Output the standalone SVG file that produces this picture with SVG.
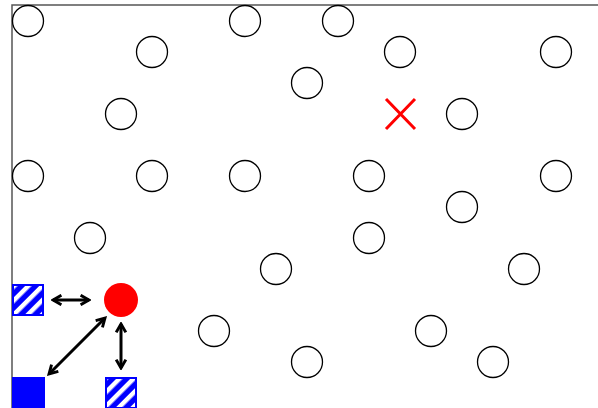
<svg xmlns="http://www.w3.org/2000/svg" width="598" height="408" viewBox="0 0 598 408">
<style>
.obs{fill:none;stroke:#000;stroke-width:1.3}
.frame{fill:none;stroke:#555;stroke-width:1.5}
.arr{stroke:#000;stroke-width:3;fill:none;marker-start:url(#ah);marker-end:url(#ah)}
.hatch{fill:url(#hp);stroke:#00f;stroke-width:2}
</style>
<defs>
<pattern id="hp" patternUnits="userSpaceOnUse" width="10" height="10" patternTransform="rotate(45)">
<rect width="10" height="10" fill="#00f"/>
<rect x="0" y="0" width="4.5" height="10" fill="#fff"/>
</pattern>
<marker id="ah" viewBox="0 0 10 10" refX="8" refY="5" markerWidth="4" markerHeight="4" orient="auto-start-reverse" markerUnits="strokeWidth">
<path d="M1,1 L8,5 L1,9" fill="none" stroke="#000" stroke-width="2.4"/>
</marker>
</defs>
<rect width="598" height="408" fill="#fff"/>
<path class="frame" d="M12,408 V5 H598"/>
<g id="obstacles">
<circle class="obs" cx="28" cy="21" r="15.5"/>
<circle class="obs" cx="245" cy="21" r="15.5"/>
<circle class="obs" cx="338" cy="21" r="15.5"/>
<circle class="obs" cx="152" cy="52" r="15.5"/>
<circle class="obs" cx="400" cy="52" r="15.5"/>
<circle class="obs" cx="556" cy="52" r="15.5"/>
<circle class="obs" cx="307" cy="83" r="15.5"/>
<circle class="obs" cx="121" cy="114" r="15.5"/>
<circle class="obs" cx="462" cy="114" r="15.5"/>
<circle class="obs" cx="28" cy="176" r="15.5"/>
<circle class="obs" cx="152" cy="176" r="15.5"/>
<circle class="obs" cx="245" cy="176" r="15.5"/>
<circle class="obs" cx="369" cy="176" r="15.5"/>
<circle class="obs" cx="556" cy="176" r="15.5"/>
<circle class="obs" cx="462" cy="207" r="15.5"/>
<circle class="obs" cx="90" cy="238" r="15.5"/>
<circle class="obs" cx="369" cy="238" r="15.5"/>
<circle class="obs" cx="276" cy="269" r="15.5"/>
<circle class="obs" cx="524" cy="269" r="15.5"/>
<circle class="obs" cx="214" cy="331" r="15.5"/>
<circle class="obs" cx="431" cy="331" r="15.5"/>
<circle class="obs" cx="307" cy="362" r="15.5"/>
<circle class="obs" cx="493" cy="362" r="15.5"/>
</g>
<g id="goal">
<path d="M386,99 L415,129 M415,99 L386,129" stroke="#f00" stroke-width="3" fill="none"/>
</g>
<g id="agent">
<circle cx="121" cy="300" r="17" fill="#f00"/>
</g>
<g id="left">
<rect class="hatch" x="13" y="285" width="30" height="30"/>
</g>
<g id="down">
<rect class="hatch" x="106" y="378" width="30" height="30"/>
</g>
<g id="diag">
<rect x="12" y="377" width="33" height="33" fill="#00f"/>
</g>
<g id="connectors">
<line class="arr" x1="53" y1="300" x2="89" y2="300"/>
<line class="arr" x1="121" y1="324" x2="121" y2="368"/>
<line class="arr" x1="49" y1="374" x2="105" y2="318"/>
</g>
</svg>
